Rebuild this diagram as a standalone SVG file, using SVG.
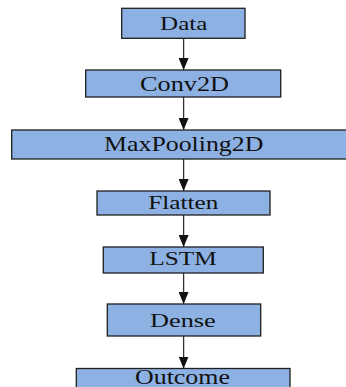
<svg xmlns="http://www.w3.org/2000/svg" width="346" height="387" viewBox="0 0 346 387">
<style>
.box{fill:#8DB1E2;stroke:#1f1f1f;stroke-width:1.3}
.lbl{font-family:"Liberation Serif","Times New Roman",serif;fill:#111;text-anchor:middle}
.edge{stroke:#333;stroke-width:1.3;fill:none}
</style>
<defs>
<marker id="ah" viewBox="0 0 12 10" refX="11.5" refY="5" markerWidth="12" markerHeight="10" markerUnits="userSpaceOnUse" orient="auto">
<path d="M0,0 L12,5 L0,10 Z" fill="#111"/>
</marker>
</defs>
<rect width="346" height="387" fill="#fff"/>
<g id="connectors">
<line class="edge" x1="183.6" y1="38.5" x2="183.6" y2="69.5" marker-end="url(#ah)"/>
<line class="edge" x1="183.6" y1="97" x2="183.6" y2="129.5" marker-end="url(#ah)"/>
<line class="edge" x1="183.6" y1="159" x2="183.6" y2="190.5" marker-end="url(#ah)"/>
<line class="edge" x1="183.6" y1="215" x2="183.6" y2="246.5" marker-end="url(#ah)"/>
<line class="edge" x1="183.6" y1="273" x2="183.6" y2="303.5" marker-end="url(#ah)"/>
<line class="edge" x1="183.6" y1="336" x2="183.6" y2="368" marker-end="url(#ah)"/>
</g>
<g id="data">
<rect class="box" x="121.7" y="8.3" width="123.3" height="30"/>
<text class="lbl" x="183.7" y="29.5" font-size="18.5" textLength="47.3" lengthAdjust="spacingAndGlyphs">Data</text>
</g>
<g id="conv2d">
<rect class="box" x="85.7" y="70" width="195" height="27"/>
<text class="lbl" x="184.6" y="91" font-size="20" textLength="89" lengthAdjust="spacingAndGlyphs">Conv2D</text>
</g>
<g id="maxpooling2d">
<rect class="box" x="11.7" y="130" width="340" height="29"/>
<text class="lbl" x="183.7" y="150.5" font-size="21.5" textLength="159.3" lengthAdjust="spacingAndGlyphs">MaxPooling2D</text>
</g>
<g id="flatten">
<rect class="box" x="97" y="191" width="173" height="24"/>
<text class="lbl" x="183.3" y="208.8" font-size="18.5" textLength="70" lengthAdjust="spacingAndGlyphs">Flatten</text>
</g>
<g id="lstm">
<rect class="box" x="103.3" y="247" width="160" height="26"/>
<text class="lbl" x="183" y="264.8" font-size="18.5" textLength="67.4" lengthAdjust="spacingAndGlyphs">LSTM</text>
</g>
<g id="dense">
<rect class="box" x="107.3" y="304" width="153.4" height="32"/>
<text class="lbl" x="182.9" y="326.8" font-size="18.5" textLength="65.7" lengthAdjust="spacingAndGlyphs">Dense</text>
</g>
<g id="outcome">
<rect class="box" x="76.3" y="368.5" width="213.7" height="30"/>
<text class="lbl" x="182.5" y="383.8" font-size="20.5" textLength="95" lengthAdjust="spacingAndGlyphs">Outcome</text>
</g>
</svg>
